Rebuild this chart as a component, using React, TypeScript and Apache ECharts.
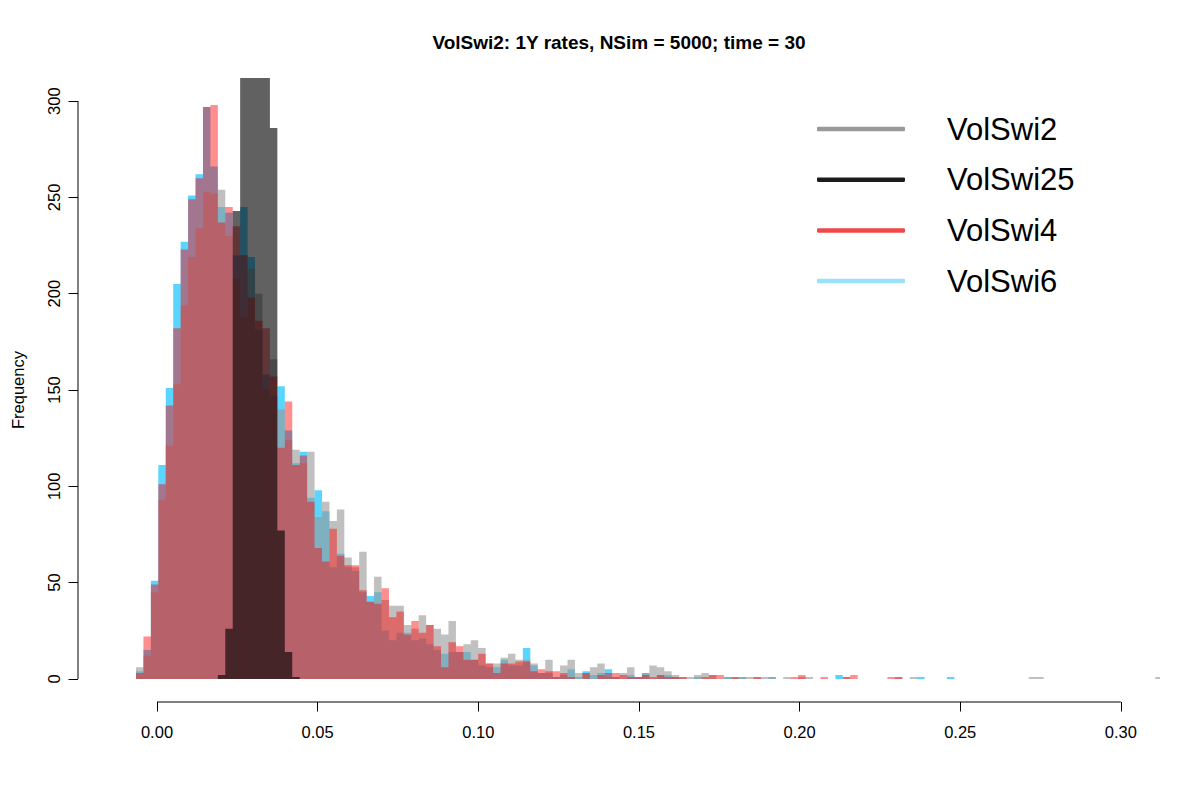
import React, { useEffect, useRef } from "react";
import * as echarts from "echarts";

// ---- data ----
const BIN_START = -0.006536; // left edge of first bin
const BIN_WIDTH = 0.0023156; // common bin width
const X_TICKS = [0, 0.05, 0.1, 0.15, 0.2, 0.25, 0.3];
const Y_TICKS = [0, 50, 100, 150, 200, 250, 300];
const SERIES_NAMES = ["VolSwi2", "VolSwi25", "VolSwi4", "VolSwi6"];
const TITLE = "VolSwi2: 1Y rates, NSim = 5000; time = 30";

const volSwi2 = [
  6, 12, 45, 93, 121, 153, 194, 219, 234, 253,
  252, 254, 230, 208, 188, 213, 200, 150, 166, 140,
  124, 119, 112, 118, 84, 92, 82, 88, 63, 58,
  66, 40, 53, 41, 38, 38, 28, 26, 33, 28,
  26, 23, 30, 14, 18, 20, 16, 8, 8, 11,
  13, 10, 10, 8, 3, 10, 1, 7, 10, 3,
  3, 6, 8, 1, 1, 3, 6, 1, 3, 7,
  6, 4, 2, 1, 1, 2, 3, 2, 0, 1,
  1, 1, 1, 1, 1, 1, 0, 1, 0, 1,
  1, 0, 0, 0, 0, 1, 0, 0, 0, 0,
  0, 0, 1, 0, 1, 0, 0, 0, 0, 0,
  0, 0, 0, 0, 0, 0, 0, 0, 0, 0,
  1, 1, 0, 0, 0, 0, 0, 0, 0, 0,
  0, 0, 0, 0, 0, 0, 0, 1,
];

const volSwi25 = [
  0, 0, 0, 0, 0, 0, 0, 0, 0, 0,
  0, 2, 26, 243, 950, 1230, 1230, 940, 286, 77,
  14, 1,
];

const volSwi4 = [
  3, 22, 49, 101, 142, 182, 223, 249, 260, 297,
  298, 237, 245, 235, 220, 198, 186, 182, 157, 120,
  144, 111, 116, 92, 68, 61, 78, 64, 59, 59,
  46, 40, 39, 47, 32, 35, 23, 30, 24, 28,
  17, 6, 19, 17, 10, 10, 13, 8, 3, 8,
  8, 9, 9, 4, 5, 4, 4, 3, 1, 0,
  3, 0, 2, 3, 3, 2, 1, 1, 2, 1,
  2, 1, 1, 1, 0, 0, 1, 2, 2, 0,
  1, 0, 0, 1, 0, 0, 0, 0, 1, 2,
  0, 0, 1, 0, 0, 1, 2, 0, 0, 0,
  0, 1, 1,
];

const volSwi6 = [
  4, 15, 51, 111, 151, 205, 227, 251, 262, 297,
  266, 245, 242, 220, 245, 219, 181, 158, 147, 152,
  129, 112, 118, 94, 98, 87, 58, 65, 58, 56,
  45, 43, 45, 25, 20, 24, 24, 20, 21, 18,
  15, 13, 14, 14, 14, 10, 7, 6, 6, 10,
  7, 7, 16, 7, 3, 3, 1, 2, 5, 1,
  4, 2, 3, 5, 1, 0, 2, 1, 3, 0,
  2, 2, 1, 0, 0, 1, 0, 0, 0, 1,
  0, 1, 0, 0, 0, 1, 0, 0, 0, 0,
  0, 0, 0, 0, 2, 0, 0, 0, 0, 0,
  0, 0, 0, 0, 0, 1, 0, 0, 0, 1,
];

// ---- layout / style ----
const X_MIN = -0.024588;
const X_MAX = 0.31217;
const Y_MIN = -12;
const Y_MAX = 312;
const FONT = "'Liberation Sans', Arial, Helvetica, sans-serif";
const TICK_FONT = 16.5;

const FILL: Record<string, string> = {
  VolSwi2: "rgba(152,152,152,0.61)",
  VolSwi25: "rgba(0,0,0,0.62)",
  VolSwi4: "rgba(255,0,0,0.443)",
  VolSwi6: "rgba(0,191,255,0.65)",
};
const LEGEND_COLOR: Record<string, string> = {
  VolSwi2: "#999999",
  VolSwi25: "#1c1c1c",
  VolSwi4: "#f04848",
  VolSwi6: "#9ae2fb",
};

function histSeries(name: string, counts: number[]) {
  return {
    type: "custom",
    name,
    clip: true,
    silent: true,
    data: [[0, 0]],
    itemStyle: { color: FILL[name] },
    renderItem: (_params: any, api: any) => {
      const pts: number[][] = [];
      pts.push(api.coord([BIN_START, 0]));
      counts.forEach((c, i) => {
        const l = BIN_START + i * BIN_WIDTH;
        const r = l + BIN_WIDTH;
        pts.push(api.coord([l, c]));
        pts.push(api.coord([r, c]));
      });
      pts.push(api.coord([BIN_START + counts.length * BIN_WIDTH, 0]));
      return {
        type: "polygon",
        shape: { points: pts },
        style: { fill: FILL[name], stroke: "none" },
      };
    },
  };
}

export default function App() {
  const ref = useRef<HTMLDivElement>(null);

  useEffect(() => {
    if (!ref.current) return;
    const chart = echarts.init(ref.current, undefined, { renderer: "svg" });

    const option: any = {
      animation: false,
      backgroundColor: "#ffffff",
      title: {
        text: TITLE,
        left: 619,
        top: 42,
        padding: 0,
        textAlign: "center",
        textVerticalAlign: "middle",
        textStyle: { fontFamily: FONT, fontSize: 19, fontWeight: "bold", color: "#000" },
      },
      legend: {
        orient: "vertical",
        left: 817,
        top: 113.5,
        padding: 0,
        itemWidth: 88,
        itemHeight: 4.5,
        itemGap: 19.7,
        icon: "roundRect",
        selectedMode: false,
        textStyle: {
          fontFamily: FONT,
          fontSize: 31,
          lineHeight: 31,
          color: "#000",
          padding: [0, 0, 0, 37],
        },
        data: SERIES_NAMES.map((n) => ({
          name: n,
          itemStyle: { color: LEGEND_COLOR[n], borderWidth: 0 },
        })),
      },
      grid: { left: 78, top: 78, width: 1082, height: 624, containLabel: false },
      xAxis: {
        type: "value",
        min: X_MIN,
        max: X_MAX,
        axisLine: { show: false, onZero: false },
        splitLine: { show: false },
        axisTick: {
          show: true,
          length: 9.5,
          customValues: X_TICKS,
          lineStyle: { color: "#000", width: 1 },
        },
        axisLabel: {
          customValues: X_TICKS,
          formatter: (v: number) => v.toFixed(2),
          fontFamily: FONT,
          fontSize: TICK_FONT,
          color: "#000",
          margin: 21,
        },
      },
      yAxis: {
        type: "value",
        min: Y_MIN,
        max: Y_MAX,
        axisLine: { show: false, onZero: false },
        splitLine: { show: false },
        axisTick: {
          show: true,
          length: 9.5,
          customValues: Y_TICKS,
          lineStyle: { color: "#000", width: 1 },
        },
        axisLabel: {
          customValues: Y_TICKS,
          rotate: 90,
          fontFamily: FONT,
          fontSize: TICK_FONT,
          color: "#000",
          margin: 16,
        },
      },
      graphic: [
        {
          type: "text",
          x: 18,
          y: 390,
          rotation: Math.PI / 2,
          silent: true,
          style: {
            text: "Frequency",
            fontFamily: FONT,
            fontSize: TICK_FONT,
            fill: "#000",
            textAlign: "center",
            textVerticalAlign: "middle",
          },
        },
      ],
      series: [
        histSeries("VolSwi6", volSwi6),
        histSeries("VolSwi2", volSwi2),
        histSeries("VolSwi4", volSwi4),
        histSeries("VolSwi25", volSwi25),
        {
          type: "custom",
          name: "__axes",
          silent: true,
          clip: false,
          data: [[0, 0]],
          renderItem: (_p: any, api: any) => {
            const a = api.coord([X_TICKS[0], Y_MIN]);
            const b = api.coord([X_TICKS[X_TICKS.length - 1], Y_MIN]);
            const c = api.coord([X_MIN, Y_TICKS[0]]);
            const d = api.coord([X_MIN, Y_TICKS[Y_TICKS.length - 1]]);
            return {
              type: "group",
              children: [
                {
                  type: "line",
                  shape: { x1: a[0], y1: a[1], x2: b[0], y2: b[1] },
                  style: { stroke: "#000", lineWidth: 1 },
                },
                {
                  type: "line",
                  shape: { x1: c[0], y1: c[1], x2: d[0], y2: d[1] },
                  style: { stroke: "#000", lineWidth: 1 },
                },
              ],
            };
          },
        },
      ],
    };

    chart.setOption(option);
    return () => chart.dispose();
  }, []);

  return (
    <div
      ref={ref}
      style={{ position: "absolute", left: 0, top: 0, width: 1200, height: 800, background: "#fff" }}
    />
  );
}
